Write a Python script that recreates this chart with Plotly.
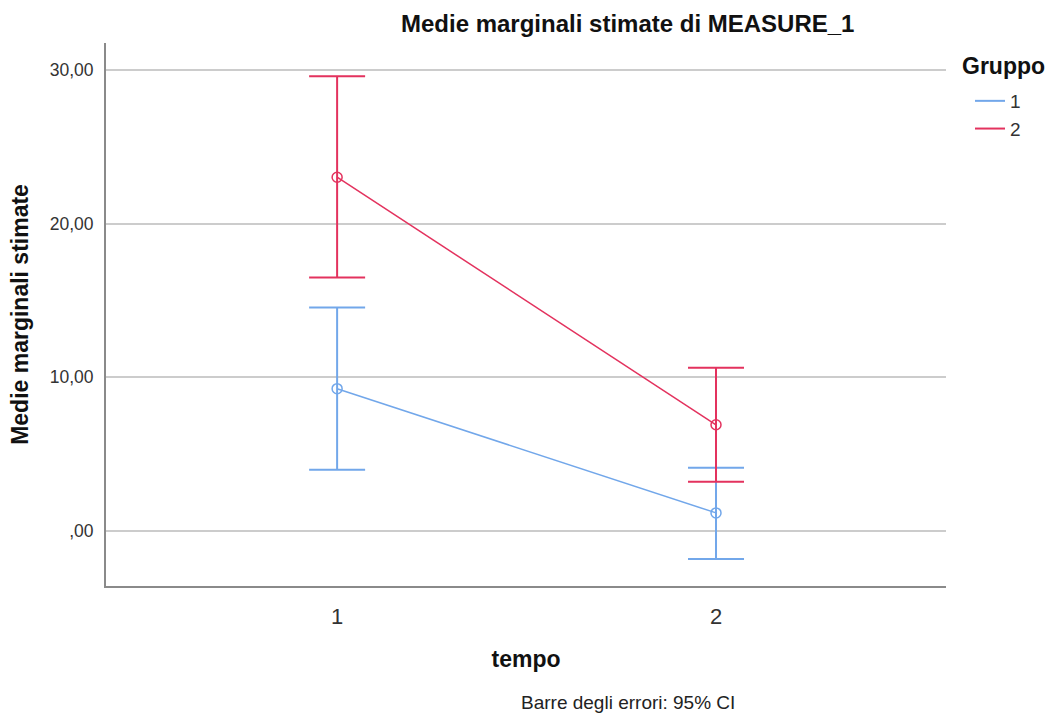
import plotly.graph_objects as go

tempo = [1, 2]
groups = ["1", "2"]
means_g1 = [9.26, 1.17]
upper_g1 = [14.55, 4.11]
lower_g1 = [3.98, -1.83]
means_g2 = [23.03, 6.91]
upper_g2 = [29.60, 10.63]
lower_g2 = [16.50, 3.20]
ytick_vals = [0, 10, 20, 30]
ytick_text = [",00", "10,00", "20,00", "30,00"]

colors = ["#72a7ea", "#e3325e"]
FONT = "Arial, Liberation Sans, sans-serif"

fig = go.Figure()
for name, m, u, l, c in [(groups[0], means_g1, upper_g1, lower_g1, colors[0]),
                         (groups[1], means_g2, upper_g2, lower_g2, colors[1])]:
    fig.add_trace(go.Scatter(
        x=tempo, y=m, mode="lines+markers", showlegend=False,
        line=dict(color=c, width=1.5),
        marker=dict(symbol="circle-open", size=10, color=c, line=dict(width=1.5)),
        error_y=dict(type="data", symmetric=False,
                     array=[uu - mm for uu, mm in zip(u, m)],
                     arrayminus=[mm - ll for ll, mm in zip(l, m)],
                     color=c, thickness=2, width=28),
    ))
    fig.add_trace(go.Scatter(x=[None], y=[None], mode="lines", name=name,
                             line=dict(color=c, width=2)))

fig.update_layout(
    width=1053, height=718,
    margin=dict(l=106, r=107, t=43, b=132, autoexpand=False),
    plot_bgcolor="white", paper_bgcolor="white",
    font=dict(family=FONT, color="#222222"),
    legend=dict(x=(970 - 106) / 840, xanchor="left", y=(586 - 82) / 543, yanchor="top",
                font=dict(size=19, color="#333"), itemwidth=30,
                tracegroupgap=0, bgcolor="rgba(0,0,0,0)"),
    xaxis=dict(range=[0.39, 2.607], tickvals=tempo, ticktext=["1", "2"],
               showgrid=False, zeroline=False, showline=True,
               linecolor="#8a8a8a", linewidth=2, ticks="", ticklabelstandoff=10,
               tickfont=dict(size=22, color="#333"),
               title=dict(text="<b>tempo</b>", font=dict(size=23, color="#111"),
                          standoff=22)),
    yaxis=dict(range=[-3.59, 31.77], tickvals=ytick_vals, ticktext=ytick_text,
               showgrid=True, gridcolor="#cccccc", gridwidth=2, zeroline=False,
               showline=True, linecolor="#8a8a8a", linewidth=2, ticks="",
               ticklabelstandoff=7,
               tickfont=dict(size=17.5, color="#333"),
               title=dict(text="<b>Medie marginali stimate</b>",
                          font=dict(size=23, color="#111"), standoff=15)),
)

fig.add_annotation(text="<b>Gruppo</b>",
                   xref="paper", yref="paper", x=(960 - 106) / 840, y=(586 - 66) / 543,
                   xanchor="left", yanchor="middle", showarrow=False,
                   font=dict(size=23, color="#111"))
fig.add_annotation(text="<b>Medie marginali stimate di MEASURE_1</b>",
                   xref="paper", yref="paper", x=(627 - 106) / 840, y=(586 - 24) / 543,
                   xanchor="center", yanchor="middle", showarrow=False,
                   font=dict(size=24, color="#111"))
fig.add_annotation(text="Barre degli errori: 95% CI",
                   xref="paper", yref="paper", x=(628 - 106) / 840, y=(586 - 702) / 543,
                   xanchor="center", yanchor="middle", showarrow=False,
                   font=dict(size=19, color="#222"))

fig.write_html("out.html", config={"displayModeBar": False},
               post_script="document.body.style.margin='0px';")
